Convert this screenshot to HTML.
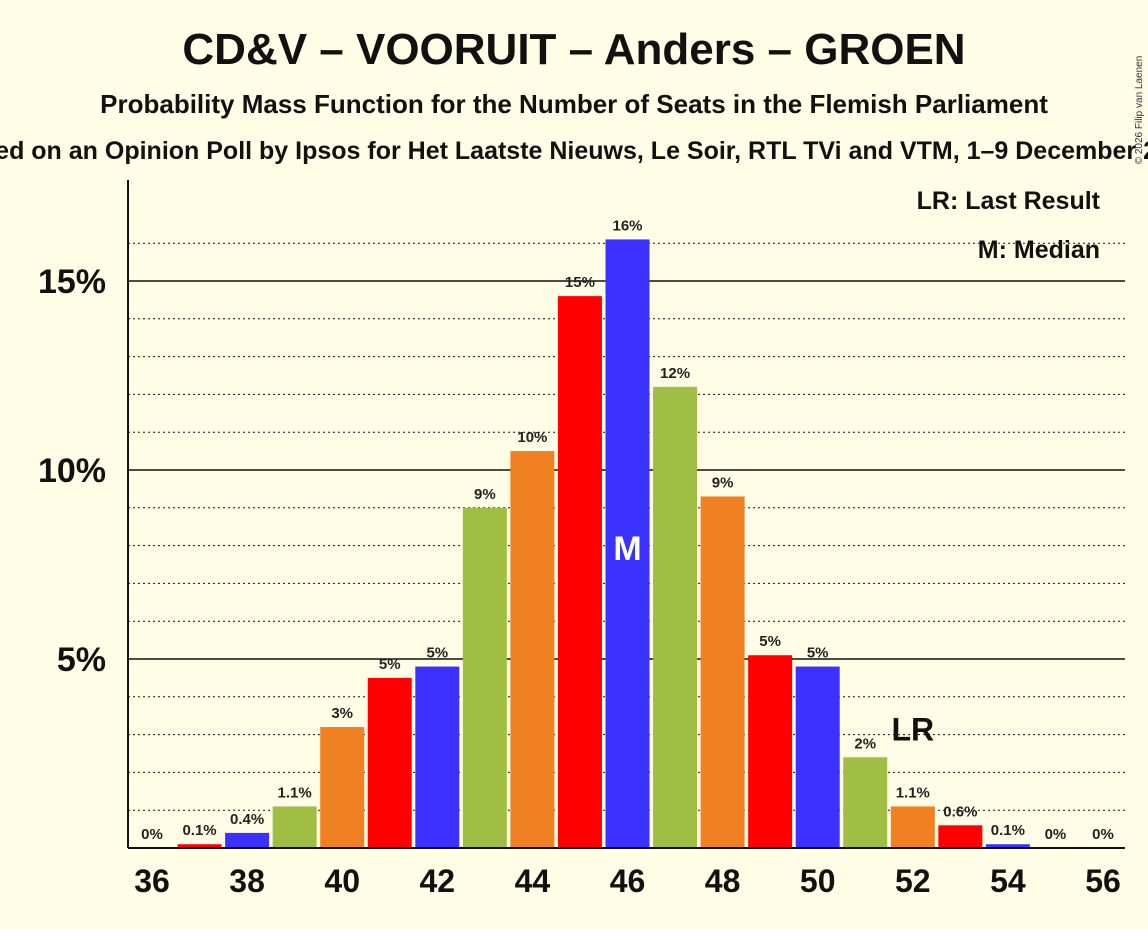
<!DOCTYPE html>
<html><head><meta charset="utf-8"><style>
body{margin:0;background:#fffde6;width:1148px;height:924px;overflow:hidden;font-family:"Liberation Sans",sans-serif}
svg text{font-family:"Liberation Sans",sans-serif;font-weight:bold}
</style></head><body>
<svg id="c" width="1148" height="924">
<text x="574" y="64" text-anchor="middle" font-size="44" fill="#111">CD&amp;V – VOORUIT – Anders – GROEN</text>
<text x="574" y="113" text-anchor="middle" font-size="26" fill="#111">Probability Mass Function for the Number of Seats in the Flemish Parliament</text>
<text x="574" y="159" text-anchor="middle" font-size="25" fill="#111">Based on an Opinion Poll by Ipsos for Het Laatste Nieuws, Le Soir, RTL TVi and VTM, 1–9 December 2025</text>
<text x="1142" y="110" font-size="10" fill="#333" transform="rotate(-90 1142 110)" text-anchor="middle" style="font-weight:normal">© 2026 Filip van Laenen</text>
<g id="grid"></g><g id="bars"></g><g id="labels"></g>
<line x1="128" y1="180" x2="128" y2="848" stroke="#111" stroke-width="2"/>
<line x1="128" y1="848" x2="1125" y2="848" stroke="#111" stroke-width="2"/>
<text x="1100" y="209" text-anchor="end" font-size="25" fill="#111">LR: Last Result</text>
<text x="1100" y="258" text-anchor="end" font-size="25" fill="#111">M: Median</text>
</svg>
<script>
const seats=[36,37,38,39,40,41,42,43,44,45,46,47,48,49,50,51,52,53,54,55,56];
const probs=[0,0.1,0.4,1.1,3.2,4.5,4.8,9.0,10.5,14.6,16.1,12.2,9.3,5.1,4.8,2.4,1.1,0.6,0.1,0,0];
const printed=["0%","0.1%","0.4%","1.1%","3%","5%","5%","9%","10%","15%","16%","12%","9%","5%","5%","2%","1.1%","0.6%","0.1%","0%","0%"];
const yTicks=[5,10,15];
const xTicks=[36,38,40,42,44,46,48,50,52,54,56];
const median=46, lastResult=52;
const colors=["#ff0000","#3b32ff","#a0bd44","#f08122"];
const NS="http://www.w3.org/2000/svg";
const xs=s=>152+(s-36)*47.55;
const ys=v=>848-v*37.8;
function mk(t,a,p){const e=document.createElementNS(NS,t);for(const k in a)e.setAttribute(k,a[k]);p.appendChild(e);return e;}
const g=document.getElementById('grid'),b=document.getElementById('bars'),l=document.getElementById('labels');
for(let v=1;v<=16;v++){
 const solid=v%5==0;
 const e=mk('line',{x1:128,x2:1125,y1:ys(v),y2:ys(v),stroke:'#111','stroke-width':solid?1.6:1,'stroke-dasharray':solid?'':'2,3'},g);
 
 
}
yTicks.forEach(v=>{const t=mk('text',{x:106,y:ys(v)+12,'text-anchor':'end','font-size':34,fill:'#111'},l);t.textContent=v+'%';
 
 });
xTicks.forEach(s=>{const t=mk('text',{x:xs(s),y:892,'text-anchor':'middle','font-size':32,fill:'#111'},l);t.textContent=s;
 
 });
seats.forEach((s,i)=>{
 const v=probs[i];
 if(v>0){const r=mk('rect',{x:xs(s)-22,y:ys(v),width:44,height:848-ys(v),fill:colors[(s-37+400)%4]},b);
  
  }
 const t=mk('text',{x:xs(s),y:ys(v)-9,'text-anchor':'middle','font-size':15,fill:'#222'},l);t.textContent=printed[i];
 
 
});
const m=mk('text',{x:xs(median),y:560,'text-anchor':'middle','font-size':34,fill:'#fff'},l);m.textContent='M';


const lr=mk('text',{x:xs(lastResult),y:ys(probs[seats.indexOf(lastResult)])-66,'text-anchor':'middle','font-size':32,fill:'#111'},l);lr.textContent='LR';


</script>
</body></html>
